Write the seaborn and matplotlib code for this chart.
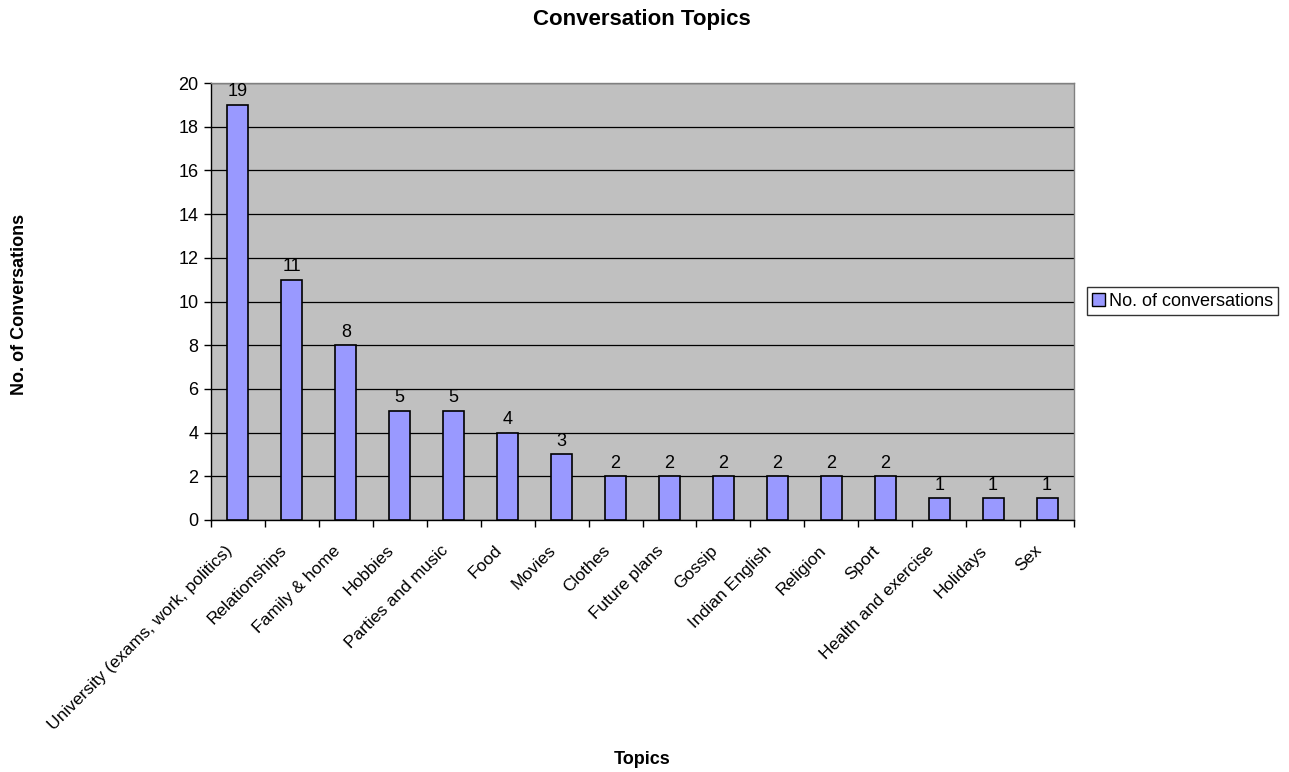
import matplotlib
matplotlib.use("Agg")
import matplotlib.pyplot as plt
import matplotlib.transforms as mtransforms
import seaborn as sns
import pandas as pd
from matplotlib.patches import Patch

categories = ["University (exams, work, politics)", "Relationships", "Family & home",
              "Hobbies", "Parties and music", "Food", "Movies", "Clothes",
              "Future plans", "Gossip", "Indian English", "Religion", "Sport",
              "Health and exercise", "Holidays", "Sex"]
values = [19, 11, 8, 5, 5, 4, 3, 2, 2, 2, 2, 2, 2, 1, 1, 1]
series_name = "No. of conversations"

df = pd.DataFrame({"Topic": categories, "Count": values})

sns.set_theme(style="white")
plt.rcParams['font.family'] = ['Liberation Sans', 'DejaVu Sans']
plt.rcParams.update({"text.color": "black", "xtick.color": "black",
                     "ytick.color": "black", "axes.labelcolor": "black"})
FS = 13

fig = plt.figure(figsize=(12.89, 7.72), dpi=100)
ax = fig.add_axes([211/1289, 1-520/772, (1074-211)/1289, (520-83)/772])
ax.set_facecolor("#C0C0C0")

sns.barplot(data=df, x="Topic", y="Count", color="#9999FF", width=0.39,
            edgecolor="black", linewidth=1.2, saturation=1, ax=ax, zorder=3)

ax.set_ylim(0, 20)
ax.set_xlim(-0.5, len(categories) - 0.5)
ax.set_yticks(range(0, 21, 2))
ax.yaxis.grid(True, color="black", linewidth=0.9, zorder=0)
ax.set_axisbelow(True)

for i, v in enumerate(values):
    ax.text(i, v + 0.2, str(v), ha="center", va="bottom", fontsize=FS, zorder=4)

# ticks at category boundaries, labels centred under bars
ax.set_xticks([i - 0.5 for i in range(len(categories) + 1)])
ax.set_xticklabels([])
ax.tick_params(axis="x", length=5, width=1, color="black", direction="out", bottom=True)
ax.tick_params(axis="y", length=5, width=1, color="black", direction="out", left=True, labelsize=FS, pad=4)

label_tr = ax.get_xaxis_transform() + mtransforms.ScaledTranslation(-8/100, -28/100, fig.dpi_scale_trans)
for i, name in enumerate(categories):
    ax.text(i, 0, name, transform=label_tr, rotation=45, ha="right", va="center",
            rotation_mode="anchor", fontsize=12.5, clip_on=False)

for s in ["left", "bottom"]:
    ax.spines[s].set_color("black")
    ax.spines[s].set_linewidth(1)
for s in ["top", "right"]:
    ax.spines[s].set_color("#808080")
    ax.spines[s].set_linewidth(1)

ax.set_xlabel("")
ax.set_ylabel("")
fig.text(642/1289, 1 - 20/772, "Conversation Topics", ha="center", va="center",
         fontsize=16, fontweight="bold")
fig.text(642/1289, 1 - 759/772, "Topics", ha="center", va="center", fontsize=FS, fontweight="bold")
fig.text(20/1289, 1 - 304/772, "No. of Conversations", ha="center", va="center",
         rotation=90, fontsize=FS, fontweight="bold")

handle = Patch(facecolor="#9999FF", edgecolor="black", linewidth=1)
leg = fig.legend([handle], [series_name], loc="center left",
                 bbox_to_anchor=(1087/1289, 1 - 301/772), frameon=True, fancybox=False,
                 fontsize=FS, handlelength=0.7, handleheight=0.7, handletextpad=0.2,
                 borderpad=0.3, borderaxespad=0)
leg.get_frame().set_edgecolor("black")
leg.get_frame().set_linewidth(1)

fig.savefig("out.png", dpi=100, facecolor="white")
